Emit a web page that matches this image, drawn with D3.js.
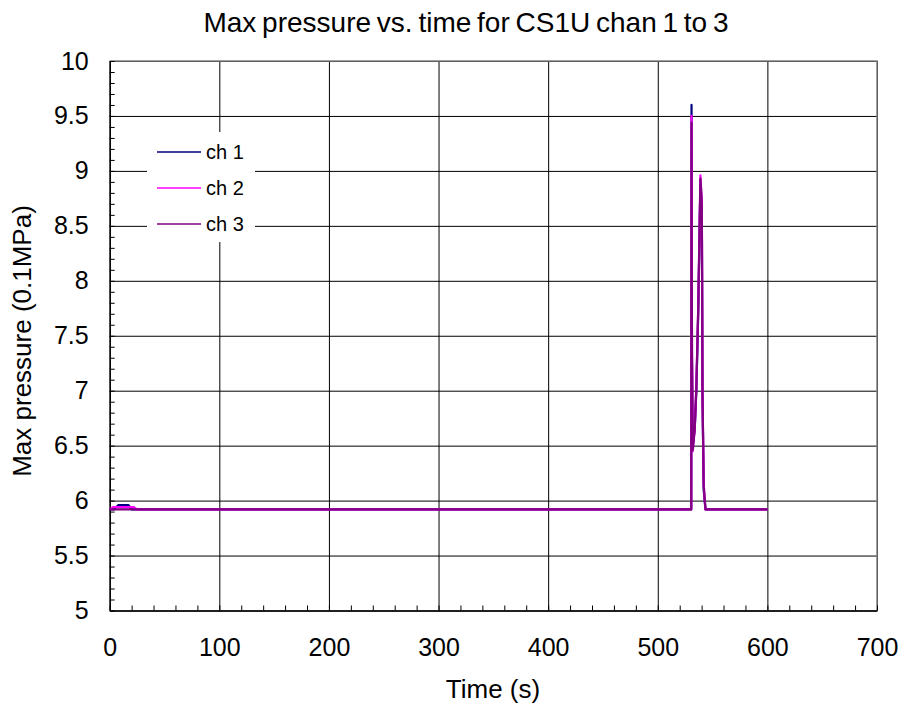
<!DOCTYPE html>
<html>
<head>
<meta charset="utf-8">
<script src="https://cdn.jsdelivr.net/npm/d3@7"></script>
<style>
  body { margin: 0; background: #fff; }
  text { font-family: "Liberation Sans", Arial, sans-serif; fill: #000; }
</style>
</head>
<body>
<svg id="chart" width="904" height="713"></svg>
<script>
// values
const xTicks = [0, 100, 200, 300, 400, 500, 600, 700];
const yTicks = [5, 5.5, 6, 6.5, 7, 7.5, 8, 8.5, 9, 9.5, 10];

const ch1Time = [0, 4, 8, 17, 20, 530.5, 530.8, 531.2, 531.9, 533.7, 535.2, 536.9, 538.9, 540.2, 540.8, 541.9, 543.5, 600];
const ch1Val = [5.92, 5.92, 5.96, 5.96, 5.92, 5.92, 9.6, 7.3, 6.5, 6.65, 7.0, 7.7, 8.9, 8.65, 6.95, 6.1, 5.92, 5.92];

const ch2Time = [0, 3, 22, 25, 530.5, 530.8, 531.2, 531.9, 533.7, 535.2, 536.9, 538.9, 540.2, 540.8, 541.9, 543.5, 600];
const ch2Val = [5.92, 5.94, 5.94, 5.92, 5.92, 9.5, 7.35, 6.45, 6.65, 7.05, 7.75, 8.96, 8.72, 6.98, 6.15, 5.92, 5.92];

const ch3Time = [0, 530.5, 530.8, 531.2, 531.9, 533.7, 535.2, 536.9, 538.9, 540.2, 540.8, 541.9, 543.5, 600];
const ch3Val = [5.92, 5.92, 9.44, 7.35, 6.46, 6.65, 7.03, 7.75, 8.93, 8.7, 6.98, 6.13, 5.92, 5.92];

const seriesNames = ["ch 1", "ch 2", "ch 3"];
const seriesColors = ["#000080", "#ff00ff", "#800080"];

const plotLeft = 109.7, plotRight = 877, plotTop = 61, plotBottom = 610.5;

const svg = d3.select("#chart");

let xScale = d3.scaleLinear().domain([0, 700]).range([plotLeft, plotRight]);
let yScale = d3.scaleLinear().domain([5, 10]).range([plotBottom, plotTop]);

// grid lines
svg.append("g")
  .attr("transform", `translate(0, ${plotBottom})`)
  .call(d3.axisBottom(xScale).tickValues(xTicks).tickSize(-(plotBottom - plotTop)).tickFormat(""))
  .call((g) => g.select(".domain").remove())
  .selectAll("line").attr("stroke", "#000").attr("stroke-width", 1);

svg.append("g")
  .attr("transform", `translate(${plotLeft}, 0)`)
  .call(d3.axisLeft(yScale).tickValues(yTicks).tickSize(-(plotRight - plotLeft)).tickFormat(""))
  .call((g) => g.select(".domain").remove())
  .selectAll("line").attr("stroke", "#000").attr("stroke-width", 1);

// top and right border (grey)
svg.append("path")
  .attr("d", `M${plotLeft},${plotTop}H${plotRight}V${plotBottom}`)
  .attr("fill", "none")
  .attr("stroke", "#808080")
  .attr("stroke-width", 1.5);

// minor ticks, pointing inward
svg.append("g")
  .attr("transform", `translate(0, ${plotBottom})`)
  .call(d3.axisBottom(xScale).tickValues(d3.range(0, 701, 20)).tickSize(-5).tickFormat(""))
  .call((g) => g.select(".domain").remove())
  .selectAll("line").attr("stroke", "#000");

svg.append("g")
  .attr("transform", `translate(${plotLeft}, 0)`)
  .call(d3.axisLeft(yScale).tickValues(d3.range(50, 101, 1).map((v) => v / 10)).tickSize(-5).tickFormat(""))
  .call((g) => g.select(".domain").remove())
  .selectAll("line").attr("stroke", "#000");

// main axis lines + labels
let xAxis = svg.append("g")
  .attr("transform", `translate(0, ${plotBottom})`)
  .call(d3.axisBottom(xScale).tickValues(xTicks).tickSize(0).tickPadding(28));
xAxis.select(".domain").attr("stroke", "#000").attr("stroke-width", 1.5);
xAxis.attr("font-family", null).attr("font-size", null);
xAxis.selectAll("text").style("font-size", "25px");

let yAxis = svg.append("g")
  .attr("transform", `translate(${plotLeft}, 0)`)
  .call(d3.axisLeft(yScale).tickValues(yTicks).tickSize(0).tickPadding(21).tickFormat(d3.format("")));
yAxis.select(".domain").attr("stroke", "#000").attr("stroke-width", 1.5);
yAxis.attr("font-family", null).attr("font-size", null);
yAxis.selectAll("text").style("font-size", "25px");

// legend box (white, hides grid)
svg.append("rect")
  .attr("x", 147).attr("y", 132)
  .attr("width", 108).attr("height", 110)
  .attr("fill", "#fff");

// series
const series = [
  ch1Time.map((t, i) => ({ t: t, v: ch1Val[i] })),
  ch2Time.map((t, i) => ({ t: t, v: ch2Val[i] })),
  ch3Time.map((t, i) => ({ t: t, v: ch3Val[i] }))
];

let valueLine = d3.line()
  .x((d) => xScale(d.t))
  .y((d) => yScale(d.v));

series.forEach((s, i) => {
  svg.append("path")
    .datum(s)
    .attr("d", valueLine)
    .attr("fill", "none")
    .attr("stroke", seriesColors[i])
    .attr("stroke-width", 2.2)
    .attr("stroke-linejoin", "round");
});

// legend
seriesNames.forEach((name, i) => {
  let ly = 152 + i * 36;
  svg.append("line")
    .attr("x1", 157).attr("x2", 201)
    .attr("y1", ly).attr("y2", ly)
    .attr("stroke", seriesColors[i])
    .attr("stroke-width", 1.5);
  svg.append("text")
    .attr("x", 206).attr("y", ly + 7)
    .style("font-size", "20px")
    .text(name);
});

// titles
svg.append("text")
  .attr("x", 466).attr("y", 32)
  .style("text-anchor", "middle")
  .style("font-size", "28px")
  .style("word-spacing", "-2px")
  .text("Max pressure vs. time for CS1U chan 1 to 3");

svg.append("text")
  .attr("x", 493).attr("y", 698)
  .style("text-anchor", "middle")
  .style("font-size", "26px")
  .text("Time (s)");

svg.append("text")
  .attr("transform", "translate(31, 341) rotate(-90)")
  .style("text-anchor", "middle")
  .style("font-size", "26px")
  .text("Max pressure (0.1MPa)");
</script>
</body>
</html>
